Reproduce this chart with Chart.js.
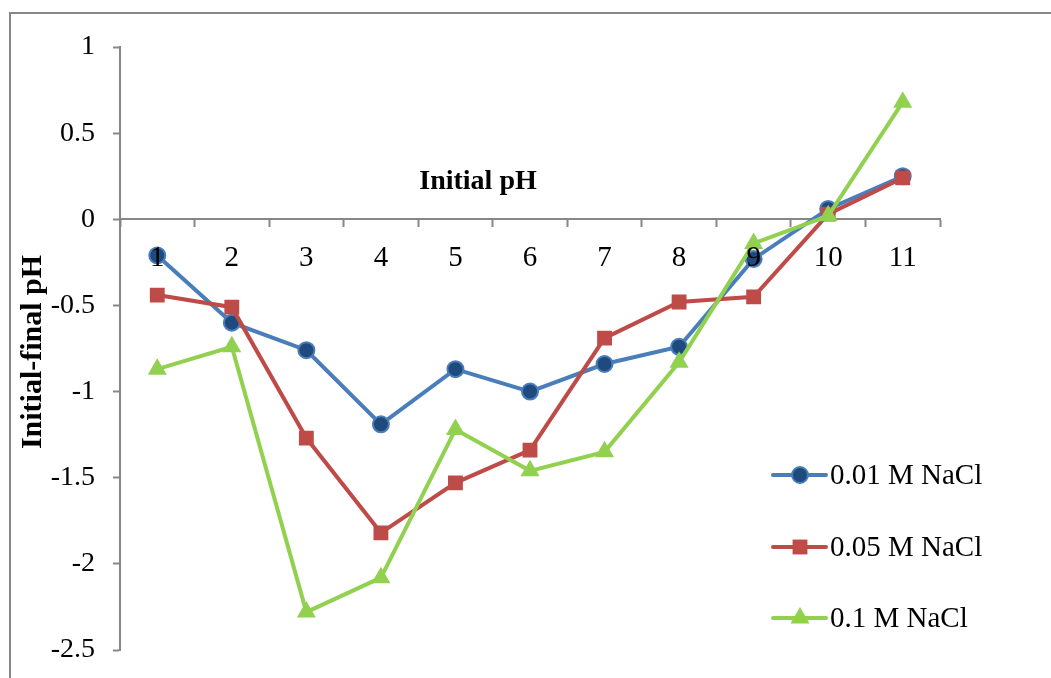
<!DOCTYPE html>
<html>
<head>
<meta charset="utf-8">
<script src="https://cdn.jsdelivr.net/npm/chart.js@4/dist/chart.umd.min.js"></script>
<style>
  html, body { margin: 0; padding: 0; background: #ffffff; }
  #wrap { position: relative; width: 1051px; height: 678px; }
</style>
</head>
<body>
<div id="wrap"><canvas id="c" width="1051" height="678"></canvas></div>
<script>
// Initial pH values (categories)
const initialPH = ['1', '2', '3', '4', '5', '6', '7', '8', '9', '10', '11'];

// Initial-final pH difference for each NaCl concentration
const nacl001 = [-0.21, -0.60, -0.76, -1.19, -0.87, -1.00, -0.84, -0.74, -0.23, 0.06, 0.25];
const nacl005 = [-0.44, -0.51, -1.27, -1.82, -1.53, -1.34, -0.69, -0.48, -0.45, 0.03, 0.24];
const nacl01  = [-0.87, -0.74, -2.28, -2.08, -1.22, -1.46, -1.35, -0.83, -0.14, 0.02, 0.68];

const seriesNames = ['0.01 M NaCl', '0.05 M NaCl', '0.1 M NaCl'];

const yMin = -2.5, yMax = 1, yStep = 0.5;

const FONT = "'Liberation Serif', 'Times New Roman', serif";
const AXIS_GRAY = '#878787';

const styles = [
  { line: '#4A7EBB', fill: '#1F4A7E', border: '#4A7EBB', shape: 'circle', r: 8, bw: 2 },
  { line: '#BE4B48', fill: '#BE4B48', border: '#BE4B48', shape: 'rect', r: 10.5, bw: 0 },
  { line: '#92D050', fill: '#92D050', border: '#92D050', shape: 'triangle', r: 11, bw: 0 }
];

const seriesData = [nacl001, nacl005, nacl01];

const datasets = seriesData.map((d, i) => ({
  label: seriesNames[i],
  data: d,
  borderColor: styles[i].line,
  borderWidth: 4,
  backgroundColor: styles[i].fill,
  pointStyle: styles[i].shape,
  pointRadius: styles[i].r,
  pointHoverRadius: styles[i].r,
  pointBackgroundColor: styles[i].fill,
  pointBorderColor: styles[i].border,
  pointBorderWidth: styles[i].bw,
  tension: 0,
  order: 3 - i
}));

// Frame, axis titles and legend drawn around the plot
const decorations = {
  id: 'decorations',
  beforeDraw(chart) {
    const ctx = chart.ctx;
    ctx.save();
    ctx.strokeStyle = AXIS_GRAY;
    ctx.lineWidth = 2;
    ctx.beginPath();
    ctx.moveTo(10, 700);
    ctx.lineTo(10, 13);
    ctx.lineTo(1060, 13);
    ctx.stroke();
    ctx.restore();
  },
  afterDraw(chart) {
    const ctx = chart.ctx;
    ctx.save();
    ctx.fillStyle = '#000';
    ctx.font = "bold 28px " + FONT;
    ctx.textAlign = 'center';
    ctx.textBaseline = 'middle';
    ctx.fillText('Initial pH', 478, 182);
    ctx.translate(33, 352);
    ctx.rotate(-Math.PI / 2);
    ctx.font = "bold 30px " + FONT;
    ctx.fillText('Initial-final pH', 0, 0);
    ctx.restore();

    // Legend: a line segment with the series marker, then the name
    const rows = [475, 547, 618];
    rows.forEach((y, i) => {
      const s = styles[i];
      ctx.save();
      ctx.strokeStyle = s.line;
      ctx.lineWidth = 4;
      ctx.lineCap = 'round';
      ctx.beginPath();
      ctx.moveTo(773, y);
      ctx.lineTo(826, y);
      ctx.stroke();
      ctx.fillStyle = s.fill;
      ctx.strokeStyle = s.border;
      ctx.lineWidth = s.bw;
      Chart.helpers.drawPoint(ctx, { pointStyle: s.shape, radius: s.r, borderWidth: s.bw, rotation: 0 }, 800, y);
      ctx.fillStyle = '#000';
      ctx.font = "29px " + FONT;
      ctx.textAlign = 'left';
      ctx.textBaseline = 'middle';
      ctx.fillText(seriesNames[i], 830, y + 1);
      ctx.restore();
    });
  }
};

new Chart(document.getElementById('c'), {
  type: 'line',
  data: { labels: initialPH, datasets },
  plugins: [decorations],
  options: {
    responsive: false,
    animation: false,
    events: [],
    layout: { padding: { left: 0, top: 47, right: 111, bottom: 28 } },
    plugins: {
      legend: { display: false },
      tooltip: { enabled: false },
      title: { display: false }
    },
    scales: {
      x: {
        type: 'category',
        position: { y: 0 },
        offset: true,
        grid: {
          offset: true,
          drawOnChartArea: false,
          drawTicks: true,
          tickLength: 7,
          tickWidth: 2,
          color: AXIS_GRAY
        },
        border: { display: true, color: AXIS_GRAY, width: 2 },
        ticks: {
          z: 1,
          color: '#000',
          font: { family: FONT, size: 29 },
          padding: 15,
          maxRotation: 0,
          autoSkip: false
        }
      },
      y: {
        min: yMin,
        max: yMax,
        afterFit(scale) {
          scale.width = 120;
          scale.paddingTop = 0;
          scale.paddingBottom = 0;
        },
        grid: {
          drawOnChartArea: false,
          drawTicks: true,
          tickLength: 7,
          tickWidth: 2,
          color: AXIS_GRAY
        },
        border: { display: true, color: AXIS_GRAY, width: 2 },
        ticks: {
          stepSize: yStep,
          color: '#000',
          font: { family: FONT, size: 28 },
          padding: 18,
          callback: (v) => String(Math.round(v * 10) / 10)
        }
      }
    }
  }
});
</script>
</body>
</html>
